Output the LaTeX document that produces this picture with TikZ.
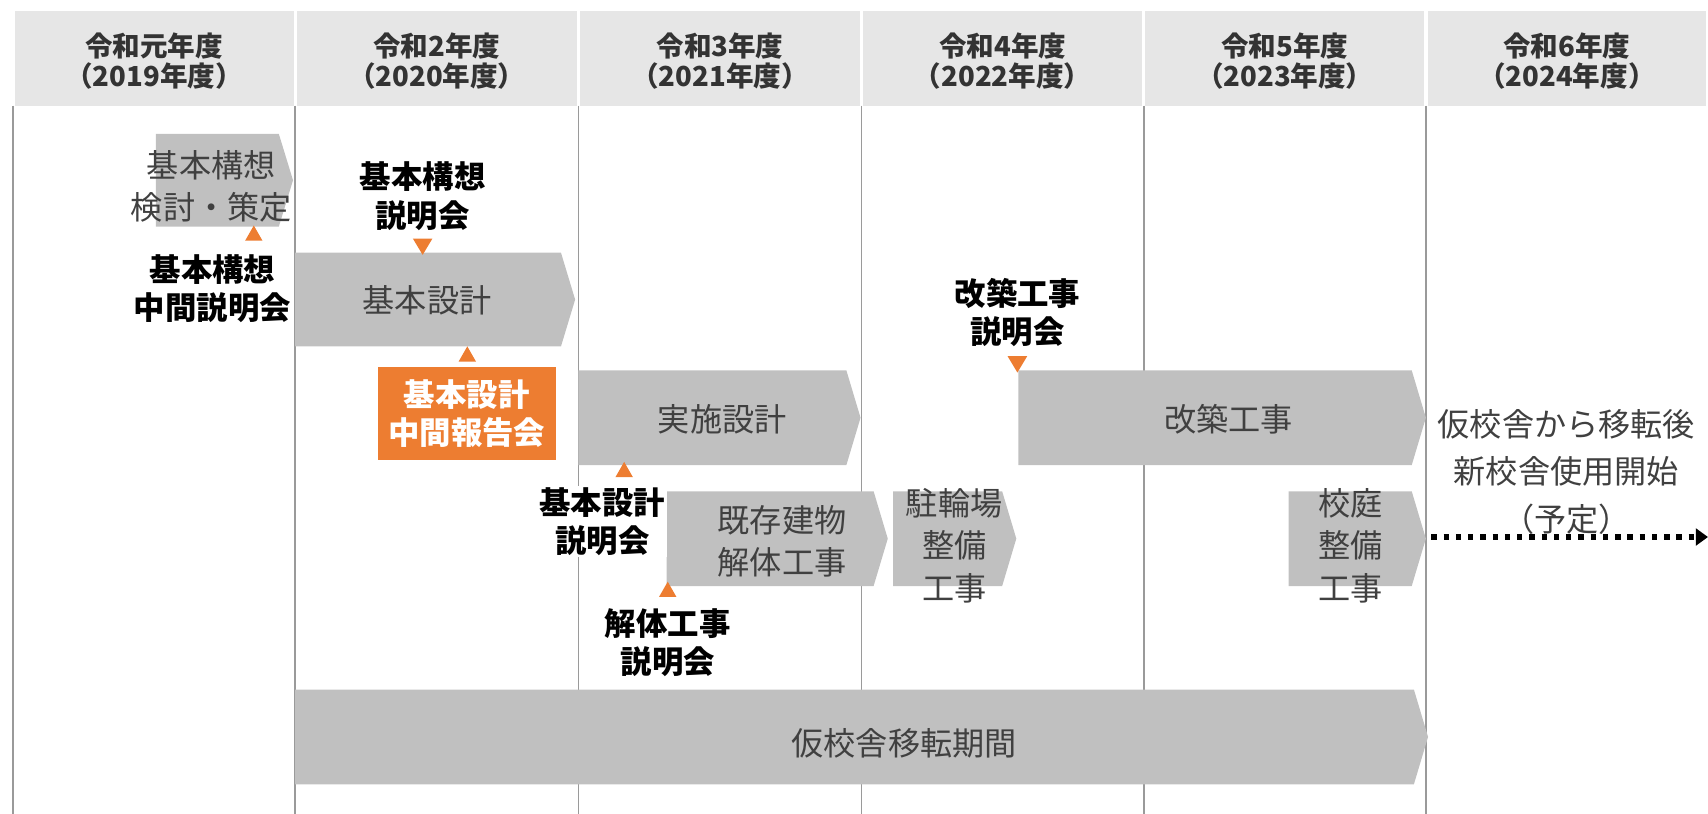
\documentclass[tikz,border=0pt]{standalone}
\usepackage{fontspec}
\setmainfont{Noto Sans CJK JP}
\usetikzlibrary{arrows.meta}

\definecolor{headgray}{HTML}{E6E6E6}
\definecolor{bargray}{HTML}{C0C0C0}
\definecolor{linegray}{HTML}{9A9A9A}
\definecolor{bartext}{HTML}{404040}
\definecolor{meetorange}{HTML}{ED7D31}

\tikzset{
  barbox/.style={fill=bargray},
  bartxt/.style={text=bartext, font=\fontsize{21}{27}\selectfont, align=center, inner sep=0pt},
  meeting/.style={font=\bfseries\fontsize{20.5}{25}\selectfont, align=center, fill=white, inner sep=1pt},
  headtxt/.style={text=black!80, font=\bfseries\fontsize{18}{20}\selectfont, align=center},
}

% chevron bar: left x, top y, tip x, bottom y
\newcommand{\chevbar}[4]{%
  \fill[barbox] (#1,#2) -- (#3-13,#2) -- (#3,{(#2+#4)/2}) -- (#3-13,#4) -- (#1,#4) -- cycle;}
% orange marks
\newcommand{\upmark}[2]{\fill[meetorange] (#1-8,#2+7) -- (#1+8,#2+7) -- (#1,#2-7) -- cycle;}
\newcommand{\downmark}[2]{\fill[meetorange] (#1-9,#2-7) -- (#1+9,#2-7) -- (#1,#2+8) -- cycle;}

\begin{document}
\begin{tikzpicture}[x=0.025cm, y=-0.025cm]
\useasboundingbox (0,0) rectangle (1568,747);

% Header cells and column lines
\foreach \xl/\xr/\era/\yr [count=\i] in {12/271/元/2019, 271/531/2/2020, 531/791/3/2021, 791/1050/4/2022, 1050/1309/5/2023, 1309/1568/6/2024} {
    \fill[headgray] (\xl+1.5,10) rectangle (\xr-1.5,97);
    \node[headtxt] (year\i) at ({(\xl+\xr)/2},56) {令和\era 年度\\（\yr 年度）};
    \draw[linegray, line width=1pt] (\xl,97) -- (\xl,747);
}

% Bars
\chevbar{143}{123}{269}{208}
\chevbar{271}{232}{528}{318}
\chevbar{531}{340}{790}{427}
\chevbar{612}{451}{815}{538}
\chevbar{820}{451}{933}{538}
\chevbar{935}{340}{1309}{427}
\chevbar{1183}{451}{1309}{538}
\chevbar{271}{633}{1311}{720}

\node[bartxt] (kousou) at (194,171) {基本構想\\検討・策定};
\node[bartxt] (kihon) at (392,276) {基本設計};
\node[bartxt] (jisshi) at (663,385) {実施設計};
\node[bartxt] (kaitai) at (718,497) {既存建物\\解体工事};
\node[bartxt, font=\fontsize{21}{28}\selectfont] (chuurin) at (876,501) {駐輪場\\整備\\工事};
\node[bartxt] (kaichiku) at (1128,385) {改築工事};
\node[bartxt, font=\fontsize{21}{28}\selectfont] (koutei) at (1240,501) {校庭\\整備\\工事};
\node[bartxt] (karikousha) at (830,682) {仮校舎移転期間};

% Meetings
\upmark{233}{214}
\downmark{388}{226}
\upmark{429}{325}
\upmark{573}{431}
\upmark{613}{541}
\downmark{934}{334}

\node[meeting] (m1) at (195,265) {基本構想\\中間説明会};
\node[meeting] (m2) at (388,180) {基本構想\\説明会};
\node[meeting, fill=meetorange, text=white, minimum width=4.075cm, minimum height=2.125cm] (m3) at (428.5,379.5) {基本設計\\中間報告会};
\node[meeting] (m4) at (553,479) {基本設計\\説明会};
\node[meeting] (m5) at (613,590) {解体工事\\説明会};
\node[meeting] (m6) at (934,287) {改築工事\\説明会};

% New building
\node[bartxt, font=\fontsize{21}{31}\selectfont] (newuse) at (1438,433) {仮校舎から移転後\\新校舎使用開始\\（予定）};
\coordinate (dstart) at (1314,493);
\coordinate (dend) at (1568,493);
\draw[line width=3.5pt, dash pattern=on 3.5pt off 4.5pt, -{Triangle[length=8pt,width=11pt]}] (dstart) -- (dend);

\end{tikzpicture}
\end{document}
